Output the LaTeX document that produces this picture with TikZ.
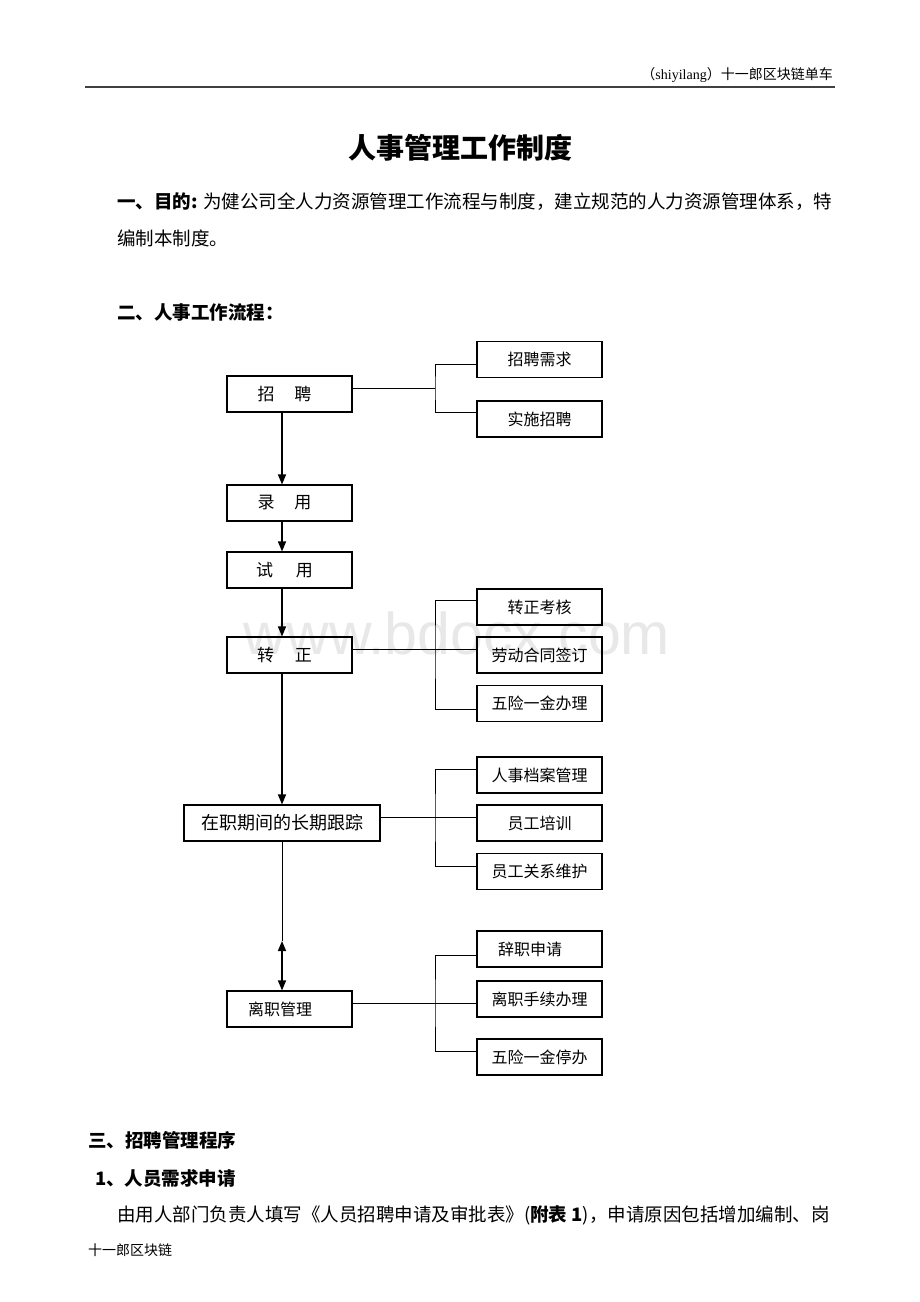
\documentclass[tikz,border=0pt]{standalone}
\usepackage{fontspec}
\setmainfont{Liberation Serif}
\newfontfamily\cjk{Noto Sans CJK SC}
\newfontfamily\wmfont{Liberation Sans}
\usetikzlibrary{arrows.meta}
\newcommand\myfs[1]{\fontsize{#1}{#1}\selectfont}
\begin{document}
\begin{tikzpicture}[x=1pt,y=-1pt,
  mainbox/.style={draw, line width=1.1pt, minimum width=125pt, minimum height=36pt, inner sep=0pt, font=\cjk\myfs{17}},
  subbox/.style={draw, line width=1.1pt, minimum width=125pt, minimum height=36pt, inner sep=0pt, font=\cjk\myfs{16}},
  flow/.style={line width=1.5pt, -{Triangle[length=10pt,width=8pt]}},
  dflow/.style={line width=1.5pt, {Triangle[length=10pt,width=8pt]}-{Triangle[length=10pt,width=8pt]}},
  thinline/.style={line width=1pt},
  branch/.style={line width=1pt},
  txt/.style={anchor=west, inner sep=0pt, font=\cjk\myfs{18.5}},
  bold/.style={anchor=west, inner sep=0pt, font=\cjk\bfseries\myfs{18.5}}
]
\useasboundingbox[fill=white] (0,0) rectangle (920,1302);

% watermark
\node[font=\wmfont\myfs{59}, text=black!9] (wm) at (457,633) {www.bdocx.com};

% header
\node[anchor=east, inner sep=0pt, font=\myfs{14}] (hdr) at (833,75) {{\cjk （}shiyilang{\cjk ）十一郎区块链单车}};
\coordinate (ruleA) at (85,87);
\coordinate (ruleB) at (835,87);
\draw[line width=1.8pt, black!75] (ruleA) -- (ruleB);

% title and paragraphs
\node[font=\cjk\bfseries\myfs{28}] (title) at (460,148) {人事管理工作制度};
\node[txt] (p1) at (117,202) {{\bfseries 一、目的:} 为健公司全人力资源管理工作流程与制度，建立规范的人力资源管理体系，特};
\node[txt] (p1b) at (117,238) {编制本制度。};
\node[bold] (s2) at (117,312) {二、人事工作流程：};

% main boxes
\node[mainbox] (zp) at (289.5,394) {招\hspace{20pt}聘\hspace*{10pt}};
\node[mainbox] (ly) at (289.5,503) {录\hspace{20pt}用\hspace*{10pt}};
\node[mainbox] (sy) at (289.5,570) {试\hspace{23pt}用\hspace*{10pt}};
\node[mainbox] (zz) at (289.5,655) {转\hspace{21pt}正\hspace*{10pt}};
\node[mainbox, minimum width=196pt, font=\cjk\myfs{18}] (zq) at (282,823) {在职期间的长期跟踪};
\node[mainbox, font=\cjk\myfs{16}] (lz) at (289.5,1009) {离职管理\hspace*{19pt}};

% sub boxes
\node[subbox] (r1) at (539.5,359.5) {招聘需求};
\node[subbox] (r2) at (539.5,419) {实施招聘};
\node[subbox] (r3) at (539.5,607) {转正考核};
\node[subbox] (r4) at (539.5,655) {劳动合同签订};
\node[subbox] (r5) at (539.5,703.5) {五险一金办理};
\node[subbox] (r6) at (539.5,775) {人事档案管理};
\node[subbox] (r7) at (539.5,823) {员工培训};
\node[subbox] (r8) at (539.5,871.5) {员工关系维护};
\node[subbox] (r9) at (539.5,949) {辞职申请\hspace*{19pt}};
\node[subbox] (r10) at (539.5,999) {离职手续办理};
\node[subbox] (r11) at (539.5,1057) {五险一金停办};

% spine arrows
\coordinate (sp) at (282,0);
\draw[flow] (zp.south -| sp) -- (ly.north -| sp);
\draw[flow] (ly.south -| sp) -- (sy.north -| sp);
\draw[flow] (sy.south -| sp) -- (zz.north -| sp);
\draw[flow] (zz.south -| sp) -- (zq.north -| sp);
\coordinate (dbl) at (282,941);
\draw[thinline] (zq.south -| sp) -- (dbl);
\draw[dflow] (dbl) -- (lz.north -| sp);

% branches
\coordinate (bk1) at (435,388);
\draw[branch] ([yshift=6pt]zp.east) -- (bk1);
\draw[branch] ([yshift=-4.5pt]r1.west) -| (bk1) |- ([yshift=7pt]r2.west);

\coordinate (bk2) at (435,649);
\draw[branch] ([yshift=6pt]zz.east) -- ([yshift=6pt]r4.west);
\draw[branch] ([yshift=6.3pt]r3.west) -| (bk2) |- ([yshift=-5.5pt]r5.west);

\coordinate (bk3) at (435,817.7);
\draw[branch] ([yshift=5.3pt]zq.east) -- ([yshift=5.3pt]r7.west);
\draw[branch] ([yshift=6pt]r6.west) -| (bk3) |- ([yshift=5.5pt]r8.west);

\coordinate (bk4) at (435,1003);
\draw[branch] ([yshift=6pt]lz.east) -- ([yshift=-4pt]r10.west);
\draw[branch] ([yshift=-6pt]r9.west) -| (bk4) |- ([yshift=5.3pt]r11.west);

% bottom text
\node[bold] (s3) at (88,1140) {三、招聘管理程序};
\node[bold] (s31) at (95,1179) {1、人员需求申请};
\node[txt] (p3) at (117,1215) {由用人部门负责人填写《人员招聘申请及审批表》({\bfseries 附表 1})，申请原因包括增加编制、岗};
\node[anchor=west, inner sep=0pt, font=\cjk\myfs{14}] (ft) at (88,1250) {十一郎区块链};
\end{tikzpicture}
\end{document}
